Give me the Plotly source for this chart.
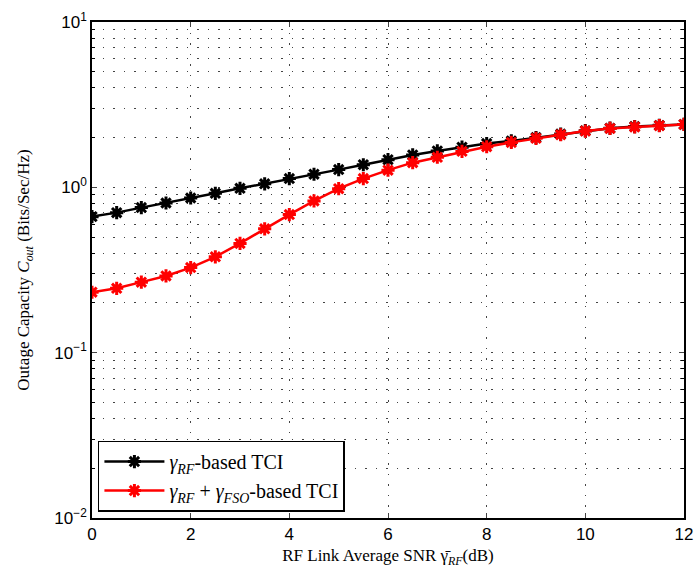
import plotly.graph_objects as go

snr_db = [0, 0.5, 1, 1.5, 2, 2.5, 3, 3.5, 4, 4.5, 5, 5.5, 6, 6.5, 7, 7.5, 8, 8.5, 9, 9.5, 10, 10.5, 11, 11.5, 12]
cap_rf = [0.665, 0.703, 0.754, 0.804, 0.862, 0.920, 0.986, 1.05, 1.13, 1.20, 1.28, 1.37, 1.47,
          1.57, 1.66, 1.75, 1.84, 1.91, 2.0, 2.1, 2.2, 2.28, 2.33, 2.37, 2.40]
cap_rf_fso = [0.232, 0.245, 0.267, 0.291, 0.327, 0.380, 0.458, 0.561, 0.684, 0.828, 0.982, 1.13, 1.27,
              1.41, 1.52, 1.65, 1.76, 1.87, 1.98, 2.08, 2.19, 2.27, 2.32, 2.36, 2.40]
name_rf = "<i>γ</i><sub><i>RF</i></sub>-based TCI"
name_rf_fso = "<i>γ</i><sub><i>RF</i></sub> + <i>γ</i><sub><i>FSO</i></sub>-based TCI"
x_ticks = [0, 2, 4, 6, 8, 10, 12]
y_ticks = [0.01, 0.1, 1, 10]
y_ticktext = ["10<sup>−2</sup>", "10<sup>−1</sup>", "10<sup>0</sup>", "10<sup>1</sup>"]
y_minor = [m * 10 ** e for e in (-2, -1, 0) for m in range(2, 10)]

fig = go.Figure()
fig.add_trace(go.Scatter(x=snr_db, y=cap_rf, mode="lines+markers", name=name_rf,
                         line=dict(color="black", width=2.5),
                         marker=dict(symbol="asterisk", size=11, color="black",
                                     line=dict(color="black", width=3))))
fig.add_trace(go.Scatter(x=snr_db, y=cap_rf_fso, mode="lines+markers", name=name_rf_fso,
                         line=dict(color="red", width=2.5),
                         marker=dict(symbol="asterisk", size=11, color="red",
                                     line=dict(color="red", width=3))))

grid_col = "#444444"
grid_dash = "1.5px,9px"
fig.update_xaxes(range=[0, 12], tickvals=x_ticks, ticks="inside", ticklen=5,
                 showline=True, linecolor="black", linewidth=1.5, mirror="ticks",
                 showgrid=True, gridcolor=grid_col, griddash=grid_dash, gridwidth=1,
                 zeroline=False, automargin=False,
                 tickfont=dict(family="Liberation Sans, Arial", size=17, color="black"),
                 title=dict(text="RF Link Average SNR γ̄<sub><i>RF</i></sub>(dB)",
                            font=dict(family="Liberation Serif, Times New Roman", size=17, color="black"),
                            standoff=6))
fig.update_yaxes(type="log", range=[-2, 1], tickvals=y_ticks, ticktext=y_ticktext,
                 ticks="inside", ticklen=5,
                 showline=True, linecolor="black", linewidth=1.5, mirror="ticks",
                 showgrid=True, gridcolor=grid_col, griddash=grid_dash, gridwidth=1,
                 minor=dict(tickvals=y_minor, showgrid=True, gridcolor=grid_col,
                            griddash=grid_dash, gridwidth=1,
                            ticks="inside", ticklen=3, tickcolor="black"),
                 zeroline=False, automargin=False,
                 tickfont=dict(family="Liberation Sans, Arial", size=17, color="black"),
                 title=dict(text="Outage Capacity <i>C</i><sub><i>out</i></sub> (Bits/Sec/Hz)",
                            font=dict(family="Liberation Serif, Times New Roman", size=17, color="black"),
                            standoff=20))

fig.update_layout(
    width=698, height=571,
    margin=dict(l=92, r=14, t=22, b=53),
    paper_bgcolor="white", plot_bgcolor="white",
    showlegend=True,
    legend=dict(x=0.01, y=0.013, xanchor="left", yanchor="bottom",
                bgcolor="white", bordercolor="black", borderwidth=1.5,
                font=dict(family="Liberation Serif, Times New Roman", size=20, color="black"),
                itemwidth=60, tracegroupgap=0),
)

fig.write_html("out.html")
